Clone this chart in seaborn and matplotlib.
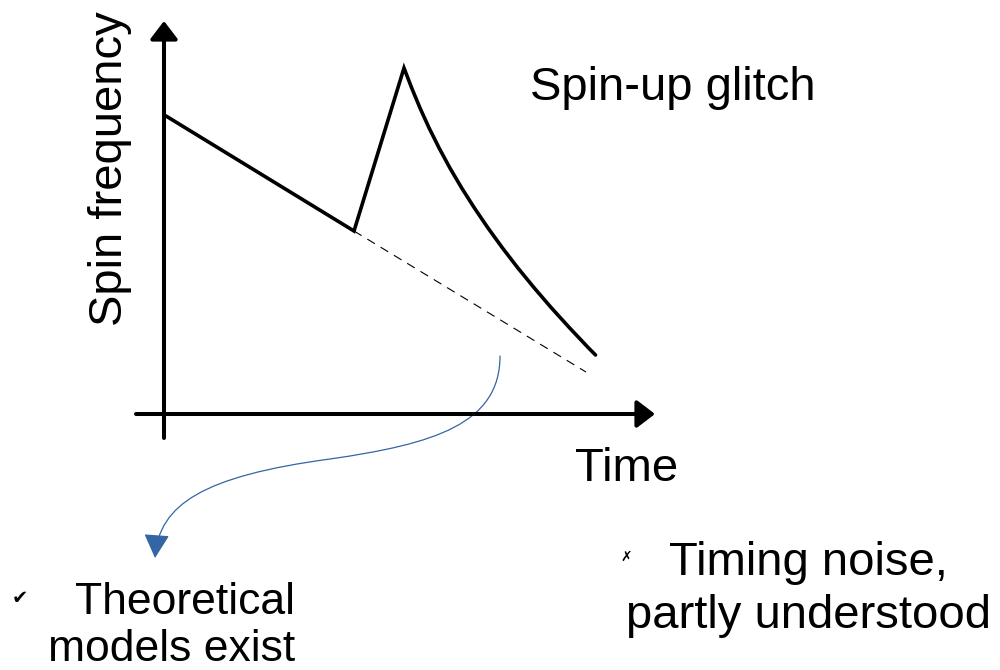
import matplotlib
matplotlib.use("Agg")
import matplotlib.pyplot as plt
from matplotlib.path import Path
from matplotlib.patches import FancyArrowPatch
import seaborn as sns

# Esquema: frecuencia de giro frente al tiempo, con un glitch de spin-up
# (unidades arbitrarias; origen en el cruce de los ejes)
pre_t = [2, 190]
pre_f = [298, 183]
rise_t = [190, 240]
rise_f = [183, 346]
recov_t = [240, 247.7, 256.0, 265.1, 275.1, 285.9, 297.7, 310.4, 324.0,
           338.5, 353.9, 370.3, 387.5, 405.7, 424.6, 431.5]
recov_f = [346, 326, 306, 286, 266, 246, 226, 206, 186,
           166, 146, 126, 106, 86, 66, 59]
extrap_t = [190, 422]
extrap_f = [183, 42]

# ejes dibujados a mano (rango de cada flecha)
x_axis_t = [-28, 491]
y_axis_f = [-24, 393]

# flecha azul curva (vértices de Bézier)
blue_t = [336, 336, 270, 166, 40, -5, -9]
blue_f = [58, -10, -30, -45, -62, -90, -144]

labels = {
    "ylabel": "Spin frequency",
    "xlabel": "Time",
    "title": "Spin-up glitch",
    "left1": "Theoretical",
    "left2": "models exist",
    "right1": "Timing noise,",
    "right2": "partly understood",
}

sns.set_style("white")
plt.rcParams['font.family'] = ['Liberation Sans', 'DejaVu Sans']
plt.rcParams['text.color'] = 'black'

fig = plt.figure(figsize=(10, 6.7), dpi=100)
ax = fig.add_axes([0, 0, 1, 1])
ax.set_xlim(-164, 836)
ax.set_ylim(-256, 414)
ax.axis('off')

# curva de frecuencia
curve_t = pre_t + rise_t[1:] + recov_t[1:]
curve_f = pre_f + rise_f[1:] + recov_f[1:]
sns.lineplot(x=curve_t, y=curve_f, sort=False, estimator=None, color='black',
             lw=2.6, ax=ax)
ax.lines[-1].set_solid_joinstyle('miter')
sns.lineplot(x=extrap_t, y=extrap_f, sort=False, estimator=None, color='black',
             lw=0.8, linestyle=(0, (8, 6)), ax=ax)

# ejes con flecha
arrow_kw = dict(arrowstyle='-|>,head_length=0.55,head_width=0.42', lw=2.9,
                color='black', mutation_scale=20, shrinkA=0, shrinkB=0)
ax.annotate('', xy=(x_axis_t[1], 0), xytext=(x_axis_t[0], 0), arrowprops=arrow_kw)
ax.annotate('', xy=(0, y_axis_f[1]), xytext=(0, y_axis_f[0]), arrowprops=arrow_kw)

# flecha azul
codes = [Path.MOVETO] + [Path.CURVE4] * 6
blue_path = Path(list(zip(blue_t, blue_f)), codes)
ax.add_patch(FancyArrowPatch(path=blue_path,
                             arrowstyle='-|>,head_length=0.75,head_width=0.4',
                             mutation_scale=20, lw=0.9, color='#3465a4'))

fs = 34
ax.text(-54, 245, labels["ylabel"], rotation=90, ha='center', va='center', fontsize=fs)
ax.text(509, 314, labels["title"], ha='center', va='baseline', fontsize=fs)
ax.text(463, -67, labels["xlabel"], ha='center', va='baseline', fontsize=fs)

ax.text(21, -200, labels["left1"], ha='center', va='baseline', fontsize=32)
ax.text(8, -247, labels["left2"], ha='center', va='baseline', fontsize=32)
ax.text(644, -161, labels["right1"], ha='center', va='baseline', fontsize=fs)
ax.text(644, -214, labels["right2"], ha='center', va='baseline', fontsize=fs)

ax.text(-144, -184, "\u2714", ha='center', va='center', fontsize=14, family='DejaVu Sans')
ax.text(462, -143, "\u2717", ha='center', va='center', fontsize=10, family='DejaVu Sans')

fig.savefig('out.png', dpi=100)
